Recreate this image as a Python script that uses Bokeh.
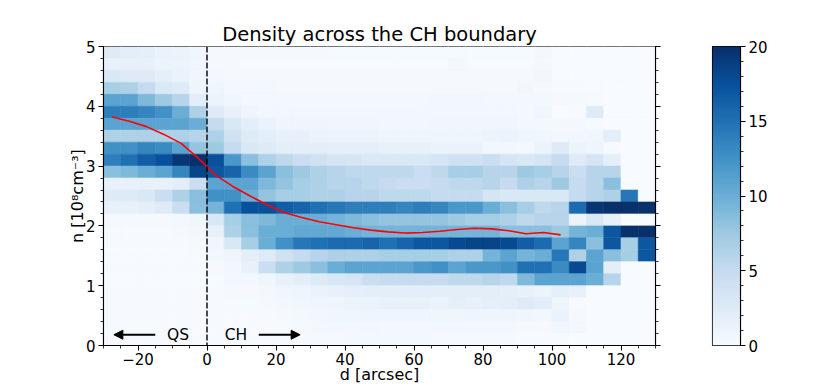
import numpy as np
from bokeh.plotting import figure
from bokeh.models import (ColumnDataSource, LinearColorMapper, Span, Label, Arrow, NormalHead,
                          SingleIntervalTicker, LinearAxis, CustomJSTickFormatter, Range1d)
from bokeh.layouts import row
from bokeh.embed import file_html
from bokeh.resources import INLINE

# ---------------- data ----------------
d_edges = [-30, -25, -20, -15, -10, -5, 0, 5, 10, 15, 20, 25, 30, 35, 40, 45, 50,
           55, 60, 65, 70, 75, 80, 85, 90, 95, 100, 105, 110, 115, 120, 125, 130]
n_edges = [0.0, 0.2, 0.4, 0.6, 0.8, 1.0, 1.2, 1.4, 1.6, 1.8, 2.0, 2.2, 2.4, 2.6,
           2.8, 3.0, 3.2, 3.4, 3.6, 3.8, 4.0, 4.2, 4.4, 4.6, 4.8, 5.0]

# probability [%] per cell; rows listed from top (n 4.8-5.0) to bottom (n 0-0.2)
prob = [
    [2.5, 2, 1.8, 1.3, 1.2, 0.8, 0.3, 0.3, 0.3, 0.3, 0.3, 0.3, 0.3, 0.2, 0.2, 0.2, 0.2, 0.2, 0.2, 0.2, 0.2, 0.2, 0.2, 0.2, 0.2, 0.5, 0, 0, 0, 0, 0, 0],
    [1.5, 1.5, 1.5, 1.2, 1.2, 0.8, 0.3, 0.3, 0.2, 0.2, 0.2, 0.2, 0.2, 0.2, 0.2, 0.2, 0.2, 0.2, 0.2, 0.2, 0.5, 0.2, 0.2, 0.2, 0.2, 0.3, 0, 0, 0, 0, 0, 0],
    [3, 2.5, 2.5, 1.8, 1.3, 0.8, 0.4, 0.3, 0.3, 0.3, 0.3, 0.3, 0.3, 0.3, 0.3, 0.3, 0.3, 0.3, 0.3, 0.3, 0.3, 0.3, 0.3, 0.3, 0.3, 0.6, 0, 0, 0, 0, 0, 0],
    [7, 6.5, 5, 3, 2.5, 1, 0.8, 0.5, 0.4, 0.4, 0.3, 0.3, 0.3, 0.3, 0.3, 0.3, 0.3, 0.3, 0.3, 0.3, 0.3, 0.3, 0.3, 0.3, 0.6, 0.3, 0.2, 0.2, 0.1, 0, 0, 0],
    [11, 11, 9, 7.5, 6, 2, 1.2, 0.8, 0.5, 0.5, 0.5, 0.4, 0.4, 0.4, 0.4, 0.4, 0.4, 0.4, 0.5, 0.6, 0.6, 0.6, 0.5, 0.5, 0.4, 0.5, 0.3, 0.3, 0.2, 0, 0, 0],
    [14, 14, 13.5, 12.5, 10, 6.5, 2.5, 1.5, 1, 0.7, 0.7, 0.6, 0.6, 0.6, 0.6, 0.6, 0.6, 0.6, 0.6, 0.6, 0.6, 0.6, 0.6, 0.7, 0.5, 0.8, 0, 0.1, 2.5, 0, 0, 0],
    [11, 11, 11, 11, 11, 10, 5, 3, 2, 1.3, 1, 1, 0.9, 0.8, 0.8, 0.8, 0.6, 0.6, 0.6, 0.8, 0.8, 0.8, 0.8, 0.8, 0.5, 0.5, 0.5, 0.5, 0.2, 0, 0, 0],
    [6.5, 6.5, 6.5, 6.5, 6.5, 6, 6.5, 4, 2.5, 2, 1.5, 1.5, 1.3, 1.2, 1.2, 1.2, 1, 1, 1, 1, 1, 1, 1.2, 1.3, 1, 0.8, 0.6, 0.7, 0.8, 2, 0, 0],
    [12.5, 12.5, 13.5, 13, 11, 8, 7.5, 5, 3, 2.5, 2, 2, 2, 1.8, 1.8, 1.8, 1.5, 1.5, 1.5, 1.3, 1.3, 1.3, 0.6, 0.6, 0.4, 1.2, 2.5, 1.2, 1, 0.2, 0, 0],
    [14, 15, 16.5, 17.5, 19.5, 20, 17.5, 12, 8.5, 6.5, 5.5, 4.5, 4, 3.5, 3.5, 3, 3, 3, 3, 3.5, 4, 4, 4.5, 3.5, 3, 3.5, 5, 2.5, 3.5, 1.8, 0, 0],
    [8.5, 9, 10, 11, 13.5, 18.5, 17, 16, 13, 11, 8.5, 7.5, 6.5, 6, 5.5, 5.5, 5.5, 5.5, 4.5, 5.5, 7, 7, 6, 6, 7.5, 7, 6, 4.5, 6, 6, 0, 0],
    [1.5, 1.5, 1.5, 1.5, 2, 4.5, 11, 11, 11, 9, 8, 7, 6.5, 6, 6, 5.5, 5, 4.5, 4.5, 5, 5.5, 5.5, 6, 5, 6.5, 6, 7.5, 5, 6, 8.5, 0, 0],
    [2.5, 2.5, 3, 4.5, 6.5, 8.5, 12.5, 12.5, 10, 8, 7, 7, 6.5, 6.5, 6, 6, 5.5, 5.5, 5.5, 5, 5, 5, 3.5, 3, 3, 3, 3, 5, 6, 6.5, 14.5, 0],
    [1.5, 1.5, 1.8, 2.5, 4.5, 8.5, 9.5, 15, 17.5, 17.5, 16.5, 16, 15, 14.5, 14, 14, 14, 13.5, 14, 13.5, 12, 12, 10, 8.5, 7, 5.5, 6, 15.5, 19.5, 20, 20, 20],
    [0.3, 0.3, 0.3, 0.3, 0.4, 0.8, 3, 7, 8.5, 9, 10, 10, 10, 9.5, 9, 8.5, 8, 8, 8, 8, 7.5, 7, 7, 6.5, 5.5, 6, 6, 1.2, 3, 1.5, 0, 0],
    [0.2, 0.2, 0.2, 0.2, 0.3, 0.5, 1.5, 6.5, 8.5, 10, 10, 10.5, 10.5, 10.5, 10, 9.5, 9.5, 9.5, 9.5, 9.5, 9.5, 9.5, 9.5, 8.5, 8.5, 8.5, 7.5, 9.5, 10, 17, 20, 20],
    [0.1, 0.1, 0.1, 0.1, 0.2, 0.3, 0.8, 3, 7, 10, 12.5, 14.5, 15, 15.5, 15.5, 16, 15, 16, 17, 17, 18, 18.5, 18.5, 18, 16.5, 15.5, 11, 13.5, 8.5, 17, 7, 17],
    [0.1, 0.1, 0.1, 0.1, 0.1, 0.2, 0.5, 1, 2, 2.5, 4, 5, 6, 6.5, 6.5, 6.5, 7, 7, 7, 7, 6.5, 6.5, 9.5, 11, 9.5, 10, 14.5, 6.5, 11, 8.5, 7, 17],
    [0.1, 0.1, 0.1, 0.1, 0.1, 0.1, 0.3, 0.7, 1.5, 4.5, 6.5, 7.5, 8.5, 10, 11, 11, 11, 11, 12, 12.5, 11, 12, 12, 12.5, 15, 15, 13, 18, 11, 2, 0, 0],
    [0.1, 0.1, 0.1, 0.1, 0.1, 0.1, 0.2, 0.4, 0.5, 1, 1.5, 2, 2.5, 3, 3.5, 4.5, 5, 5, 5, 5, 5.5, 5.5, 6, 5.5, 9, 11, 11, 11, 10, 6, 0, 0],
    [0.1, 0.1, 0.1, 0.1, 0.1, 0.1, 0.1, 0.3, 0.3, 0.5, 0.8, 1, 1.3, 1.5, 1.8, 2, 2, 2, 2, 2, 2, 2, 2, 1.8, 1.5, 1.2, 1.8, 1.5, 0, 0, 0, 0],
    [0.1, 0.1, 0.1, 0.1, 0.1, 0.1, 0.1, 0.2, 0.2, 0.3, 0.5, 0.8, 1, 1, 1.2, 1.3, 1.5, 1.5, 1.5, 1.3, 1.8, 1.5, 1.8, 2, 2.5, 2.2, 1, 0.2, 0, 0, 0, 0],
    [0.1, 0.1, 0.1, 0.1, 0.1, 0.1, 0.1, 0.1, 0.1, 0.2, 0.3, 0.5, 0.7, 0.8, 0.8, 1, 0.9, 0.9, 0.9, 0.8, 0.8, 0.9, 1, 1, 0.8, 0.7, 1.3, 0.3, 0, 0, 0, 0],
    [0.1, 0.1, 0.1, 0.1, 0.1, 0.1, 0.1, 0.1, 0.1, 0.1, 0.2, 0.3, 0.4, 0.5, 0.5, 0.6, 0.5, 0.5, 0.5, 0.5, 0.5, 0.5, 0.5, 0.5, 0.3, 0.3, 0.8, 0.5, 0, 0, 0, 0],
    [0.1, 0.1, 0.1, 0.1, 0.1, 0.1, 0.1, 0.1, 0.1, 0.1, 0.2, 0.3, 0.3, 0.3, 0.4, 0.4, 0.5, 0.4, 0.4, 0.3, 0.3, 0.3, 0.3, 0.3, 0.1, 0.1, 0.1, 0, 0, 0, 0, 0],
]

# mean density profile (red line)
mean_d = [-27.5, -22.5, -17.5, -12.5, -7.5, -2.5, 2.5, 7.5, 12.5, 17.5, 22.5, 27.5, 32.5,
          37.5, 42.5, 47.5, 52.5, 57.5, 62.5, 67.5, 72.5, 77.5, 82.5, 87.5, 92.5, 97.5, 102.5]
mean_n = [3.82, 3.75, 3.66, 3.53, 3.38, 3.13, 2.85, 2.66, 2.50, 2.35, 2.22, 2.14, 2.07,
          2.02, 1.97, 1.93, 1.90, 1.88, 1.89, 1.91, 1.94, 1.96, 1.95, 1.92, 1.87, 1.89, 1.85]

cbar_range = [0, 20]
blues_anchors = ["#f7fbff", "#deebf7", "#c6dbef", "#9ecae1", "#6baed6",
                 "#4292c6", "#2171b5", "#08519c", "#08306b"]

FONT = "DejaVu Sans"

# ---------------- palette (matplotlib "Blues") ----------------
anch = np.array([[int(h[i:i + 2], 16) for i in (1, 3, 5)] for h in blues_anchors], float)
pal = []
for k in range(256):
    t = k / 255 * (len(anch) - 1)
    i = min(int(t), len(anch) - 2)
    f = t - i
    c = (1 - f) * anch[i] + f * anch[i + 1]
    pal.append("#%02x%02x%02x" % tuple(int(round(x)) for x in c))
mapper = LinearColorMapper(palette=pal, low=cbar_range[0], high=cbar_range[1])

# ---------------- cells ----------------
left, right, bottom, top, val = [], [], [], [], []
nrows = len(n_edges) - 1
for r, vals in enumerate(prob):
    j = nrows - 1 - r
    for i, v in enumerate(vals):
        left.append(d_edges[i]); right.append(d_edges[i + 1])
        bottom.append(n_edges[j]); top.append(n_edges[j + 1]); val.append(v)
src = ColumnDataSource(dict(left=left, right=right, bottom=bottom, top=top, v=val))


def style_axis(ax, fs="15px"):
    ax.axis_line_color = "black"; ax.axis_line_width = 1.1
    ax.major_tick_line_color = "black"; ax.major_tick_line_width = 1.1
    ax.minor_tick_line_color = "black"; ax.minor_tick_line_width = 0.8
    ax.major_tick_in = 0; ax.major_tick_out = 5
    ax.minor_tick_in = 0; ax.minor_tick_out = 3
    ax.major_label_text_font = FONT; ax.major_label_text_font_size = fs
    ax.major_label_text_color = "black"; ax.major_label_standoff = 3
    ax.axis_label_text_font = FONT; ax.axis_label_text_font_size = "16px"
    ax.axis_label_text_font_style = "normal"; ax.axis_label_text_color = "black"


H = 386
p = figure(width=680, height=H, x_range=Range1d(d_edges[0], d_edges[-1]),
           y_range=Range1d(n_edges[0], n_edges[-1]),
           output_backend="svg", toolbar_location=None,
           title="Density across the CH boundary",
           min_border_left=103, min_border_right=25, min_border_top=46,
           min_border_bottom=H - 46 - 299)
p.background_fill_color = "white"
p.border_fill_color = "white"
p.grid.visible = False
p.outline_line_color = "black"
p.outline_line_width = 1.1
p.title.text_font = FONT
p.title.text_font_size = "19.5px"
p.title.text_font_style = "normal"
p.title.text_color = "black"
p.title.align = "center"
p.title.standoff = 1

p.quad(left="left", right="right", bottom="bottom", top="top", source=src,
       fill_color={"field": "v", "transform": mapper},
       line_color={"field": "v", "transform": mapper}, line_width=0.6)

p.add_layout(Span(location=0, dimension="height", line_color="black",
                  line_dash="6 2", line_width=1.4))
p.line(mean_d, mean_n, line_color="red", line_width=1.6)

# region labels and arrows
for xt, txt in [(-8.4, "QS"), (8.4, "CH")]:
    p.add_layout(Label(x=xt, y=0.18, text=txt, text_align="center", text_baseline="middle",
                       text_font=FONT, text_font_size="15.5px", text_color="black"))
for xs, xe in [(-15, -27), (15, 27)]:
    p.add_layout(Arrow(end=NormalHead(size=9, fill_color="black", line_color="black"),
                       x_start=xs, y_start=0.18, x_end=xe, y_end=0.18,
                       line_color="black", line_width=2.2))

p.xaxis.ticker = SingleIntervalTicker(interval=20, num_minor_ticks=4)
p.yaxis.ticker = SingleIntervalTicker(interval=1, num_minor_ticks=5)
p.xaxis.major_label_overrides = {-20: "\u221220"}
style_axis(p.xaxis[0]); style_axis(p.yaxis[0])
p.xaxis.axis_label = "d [arcsec]"
p.xaxis.major_label_standoff = 2
p.xaxis.axis_label_standoff = -3
p.yaxis.axis_label = "n [10\u2078cm\u207b\u00b3]"
p.yaxis.axis_label_standoff = -4

ry = LinearAxis(ticker=SingleIntervalTicker(interval=1, num_minor_ticks=5),
                formatter=CustomJSTickFormatter(code="return ''"))
style_axis(ry)
ry.major_label_standoff = 0
p.add_layout(ry, "right")

# ---------------- colorbar ----------------
cb = figure(width=110, height=H, x_range=Range1d(0, 1), y_range=Range1d(*cbar_range),
            output_backend="svg", toolbar_location=None,
            x_axis_location=None, y_axis_location="right",
            min_border_left=32, min_border_right=50, min_border_top=46,
            min_border_bottom=H - 46 - 299)
cb.grid.visible = False
cb.outline_line_color = "black"
cb.outline_line_width = 1.1
cb.border_fill_color = "white"
grad = np.linspace(cbar_range[0], cbar_range[1], 256).reshape(256, 1)
cb.image(image=[grad], x=0, y=cbar_range[0], dw=1, dh=cbar_range[1] - cbar_range[0],
         color_mapper=mapper)
cb.yaxis.ticker = SingleIntervalTicker(interval=5, num_minor_ticks=5)
style_axis(cb.yaxis[0])
cb.add_layout(Label(x=2.3, y=(cbar_range[0] + cbar_range[1]) / 2, text="Probability [%]",
                    angle=np.pi / 2, text_align="center", text_baseline="middle",
                    text_font=FONT, text_font_size="16px", text_color="black"))

layout = row(p, cb)
open("out.html", "w").write(file_html(layout, INLINE))
